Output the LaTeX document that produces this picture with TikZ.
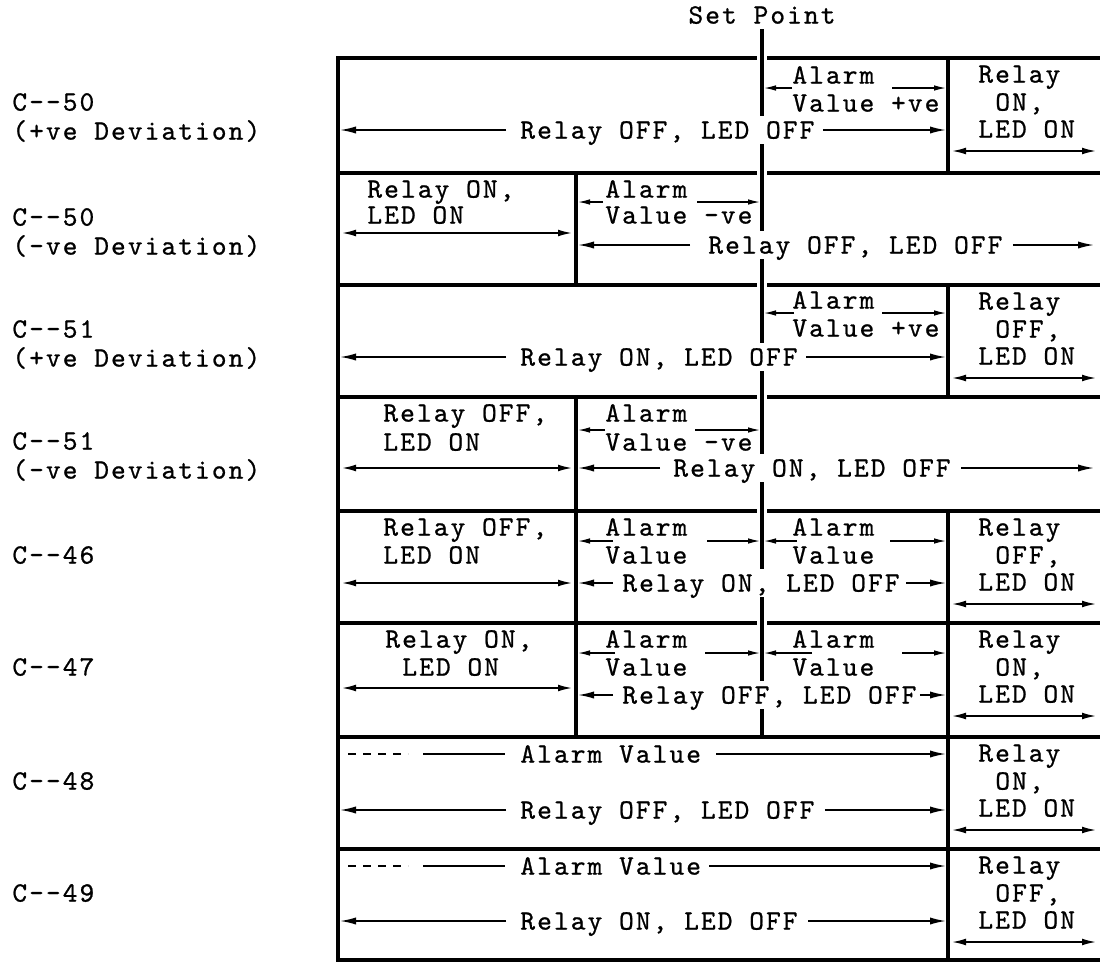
\documentclass[tikz,border=0pt]{standalone}
\usepackage{fontspec}
\setmonofont{lmmono10-regular}[Extension=.otf, LetterSpace=7.5, FakeBold=0.8]
\usetikzlibrary{arrows.meta}

\begin{document}
\begin{tikzpicture}[
  x=0.5pt, y=-0.5pt,
  every node/.style={font=\ttfamily\fontsize{14}{14}\selectfont, anchor=west, inner xsep=0pt, inner ysep=2.5pt, text height=8.6pt, text depth=0pt},
  cross/.style={fill=white},
  box/.style={line width=1.6pt, line cap=rect},
  spline/.style={line width=2.2pt},
  arr/.style={-{Latex[length=8pt,width=3.6pt]}, line width=0.8pt, shorten >=1pt},
  small/.style={-{Latex[length=6pt,width=2.8pt]}, line width=0.7pt, shorten >=1pt},
  dbl/.style={{Latex[length=7pt,width=3.4pt]}-{Latex[length=7pt,width=3.4pt]}, line width=0.8pt, shorten >=2pt, shorten <=2pt},
  dashline/.style={dash pattern=on 4pt off 3.5pt, line width=0.8pt},
  solidline/.style={line width=0.8pt}
]
\useasboundingbox (0,0) rectangle (1100,964);

\coordinate (L) at (338,0);
\coordinate (D) at (576,0);
\coordinate (S) at (762,0);
\coordinate (R) at (948,0);
\coordinate (E) at (1100,0);

\node[anchor=center] (sp) at (762,15) {Set Point};
\draw[spline] (sp.south) -- (762,737);

\foreach \n/\t/\c/\sg in {1/58/50/+,2/173/50/-,3/285/51/+,4/397/51/-} {
  \node (c\n) at (12,\t+44) {C-{}-\c};
  \node (e\n) at (12,\t+73) {(\sg ve Deviation)};
}
\foreach \n/\t/\c in {5/511/46,6/623/47,7/737/48,8/849/49}
  \node (c\n) at (12,\t+44) {C-{}-\c};

\foreach \n/\t/\s in {1/58/ON,3/285/OFF,5/511/OFF,6/623/ON,7/737/ON,8/849/OFF} {
  \node (rl\n) at (978,\t+16) {Relay};
  \node (rs\n) at (995,\t+44) {\s,};
  \node (rd\n) at (978,\t+71) {LED ON};
  \coordinate (rc\n) at (948,\t+93);
  \draw[dbl] (rc\n) -- (rc\n -| E);
}

\node (a1) at (792,75) {Alarm};
\node (v1) at (792,103) {Value +ve};
\node[cross] (o1) at (520,130) {Relay OFF, LED OFF};
\coordinate (m1) at (792,88);
\coordinate (n1) at (892,88);
\draw[small] (m1) -- (m1 -| S);
\draw[small] (n1) -- (n1 -| R);
\draw[arr] ([xshift=-7pt]o1.west) -- (o1.west -| L);
\draw[arr] ([xshift=4pt]o1.east) -- (o1.east -| R);

\node (r2a) at (367,189) {Relay ON,};
\node (r2b) at (367,215) {LED ON};
\coordinate (d2) at (338,233);
\draw[dbl] (d2) -- (d2 -| D);
\node (a2) at (605,189) {Alarm};
\node (v2) at (605,215) {Value -ve};
\coordinate (m2) at (603,202);
\coordinate (n2) at (697,202);
\draw[small] (m2) -- (m2 -| D);
\draw[small] (n2) -- (n2 -| S);
\node[cross] (o2) at (708,245) {Relay OFF, LED OFF};
\draw[arr] ([xshift=-9pt]o2.west) -- (o2.west -| D);
\draw[arr, shorten >=3pt] ([xshift=5pt]o2.east) -- (o2.east -| E);

\node (a3) at (792,300) {Alarm};
\node (v3) at (792,328) {Value +ve};
\node[cross] (o3) at (520,357) {Relay ON, LED OFF};
\coordinate (m3) at (794,313);
\coordinate (n3) at (882,313);
\draw[small] (m3) -- (m3 -| S);
\draw[small] (n3) -- (n3 -| R);
\draw[arr] ([xshift=-7pt]o3.west) -- (o3.west -| L);
\draw[arr] ([xshift=4pt]o3.east) -- (o3.east -| R);

\node (r4a) at (383,413) {Relay OFF,};
\node (r4b) at (383,442) {LED ON};
\coordinate (d4) at (338,468);
\draw[dbl] (d4) -- (d4 -| D);
\node (a4) at (605,413) {Alarm};
\node (v4) at (605,442) {Value -ve};
\coordinate (m4) at (605,430);
\coordinate (n4) at (695,430);
\draw[small] (m4) -- (m4 -| D);
\draw[small] (n4) -- (n4 -| S);
\node[cross] (o4) at (673,468) {Relay ON, LED OFF};
\draw[arr] ([xshift=-6.5pt]o4.west) -- (o4.west -| D);
\draw[arr, shorten >=3pt] ([xshift=5pt]o4.east) -- (o4.east -| E);

\node (r5a) at (383,527) {Relay OFF,};
\node (r5b) at (383,555) {LED ON};
\coordinate (d5) at (338,583);
\draw[dbl] (d5) -- (d5 -| D);
\node (a5) at (605,527) {Alarm};
\node (v5) at (605,555) {Value};
\coordinate (m5) at (613,541);
\coordinate (n5) at (707,541);
\draw[small] (m5) -- (m5 -| D);
\draw[small] (n5) -- (n5 -| S);
\node[cross] (o5) at (622,583) {Relay ON, LED OFF};
\draw[arr] ([xshift=-4.5pt]o5.west) -- (o5.west -| D);
\draw[arr] ([xshift=3pt]o5.east) -- (o5.east -| R);
\node (b5) at (792,527) {Alarm};
\node (w5) at (792,555) {Value};
\coordinate (p5) at (797,541);
\coordinate (q5) at (890,541);
\draw[small] (p5) -- (p5 -| S);
\draw[small] (q5) -- (q5 -| R);

\node (r6a) at (385,639) {Relay ON,};
\node (r6b) at (402,667) {LED ON};
\coordinate (d6) at (338,688);
\draw[dbl] (d6) -- (d6 -| D);
\node (a6) at (605,639) {Alarm};
\node (v6) at (605,667) {Value};
\coordinate (m6) at (615,653);
\coordinate (n6) at (705,653);
\draw[small] (m6) -- (m6 -| D);
\draw[small] (n6) -- (n6 -| S);
\node[cross] (o6) at (622,695) {Relay OFF, LED OFF};
\draw[arr] ([xshift=-4.5pt]o6.west) -- (o6.west -| D);
\draw[arr] ([xshift=1.5pt]o6.east) -- (o6.east -| R);
\node (b6) at (792,639) {Alarm};
\node (w6) at (792,667) {Value};
\coordinate (p6) at (812,653);
\coordinate (q6) at (902,653);
\draw[small] (p6) -- (p6 -| S);
\draw[small] (q6) -- (q6 -| R);

\node (av7) at (520,754) {Alarm Value};
\draw[dashline] ([xshift=-86pt]av7.west) -- ([xshift=-56pt]av7.west);
\draw[solidline] ([xshift=-48.5pt]av7.west) -- ([xshift=-7.5pt]av7.west);
\draw[arr] ([xshift=7.5pt]av7.east) -- (av7.east -| R);
\node (o7) at (520,810) {Relay OFF, LED OFF};
\draw[arr] ([xshift=-7pt]o7.west) -- (o7.west -| L);
\draw[arr] ([xshift=5pt]o7.east) -- (o7.east -| R);

\node (av8) at (520,866) {Alarm Value};
\draw[dashline] ([xshift=-86pt]av8.west) -- ([xshift=-56pt]av8.west);
\draw[solidline] ([xshift=-48.5pt]av8.west) -- ([xshift=-7.5pt]av8.west);
\draw[arr] ([xshift=4pt]av8.east) -- (av8.east -| R);
\node (o8) at (520,921) {Relay ON, LED OFF};
\draw[arr] ([xshift=-7pt]o8.west) -- (o8.west -| L);
\draw[arr] ([xshift=5pt]o8.east) -- (o8.east -| R);

\foreach \y in {58,173,285,397,511,623} {
  \draw[box] (338,\y) -- (755,\y);
  \draw[box] (769,\y) -- (1100,\y);
}
\foreach \y in {737,849,960}
  \draw[box] (338,\y) -- (1100,\y);
\draw[box] (338,58) -- (338,960);
\draw[box] (948,58) -- (948,173) (948,285) -- (948,397) (948,511) -- (948,960);
\draw[box] (576,173) -- (576,285) (576,397) -- (576,737);
\end{tikzpicture}
\end{document}
